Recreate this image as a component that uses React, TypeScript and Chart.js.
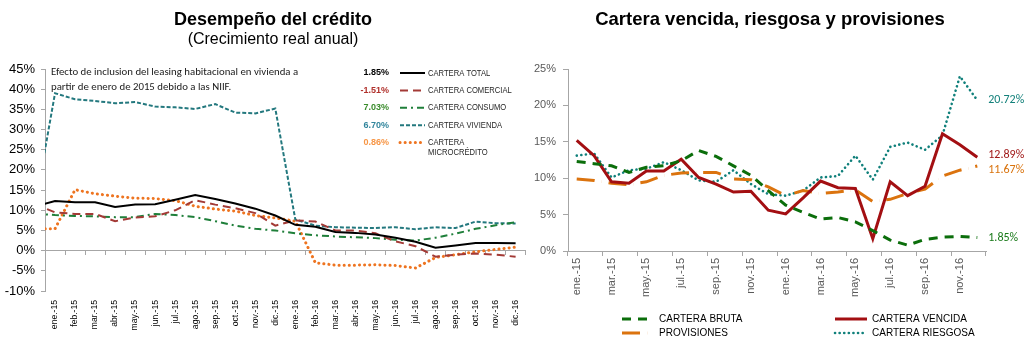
import React, { useEffect, useRef } from 'react';
import { Chart, registerables } from 'chart.js';

Chart.register(...registerables);

// ---------- text ----------
const LEFT_TITLE = 'Desempeño del crédito';
const LEFT_SUBTITLE = '(Crecimiento real anual)';
const RIGHT_TITLE = 'Cartera vencida, riesgosa y provisiones';
const NOTE_LINES = [
  'Efecto de inclusion del leasing habitacional en vivienda a',
  'partir de enero de 2015 debido a las NIIF.',
];

// ---------- categories ----------
const MONTHS = [
  'ene.-15', 'feb.-15', 'mar.-15', 'abr.-15', 'may.-15', 'jun.-15',
  'jul.-15', 'ago.-15', 'sep.-15', 'oct.-15', 'nov.-15', 'dic.-15',
  'ene.-16', 'feb.-16', 'mar.-16', 'abr.-16', 'may.-16', 'jun.-16',
  'jul.-16', 'ago.-16', 'sep.-16', 'oct.-16', 'nov.-16', 'dic.-16',
];
// left chart shows the tail of the segment coming from dic.-14 (clipped at the axis)
const LEFT_LABELS = ['dic.-14', ...MONTHS];

// ---------- left chart series (dic.-14, ene.-15 ... dic.-16) ----------
const LEFT_NAMES = ['CARTERA TOTAL', 'CARTERA COMERCIAL', 'CARTERA CONSUMO', 'CARTERA VIVIENDA', 'CARTERA MICROCRÉDITO'];
const CARTERA_TOTAL = [10.9, 12.3, 12.0, 12.0, 10.8, 11.4, 11.5, 12.6, 13.8, 12.8, 11.7, 10.4, 8.7, 6.4, 5.9, 4.6, 4.4, 4.0, 3.2, 2.2, 0.7, 1.3, 1.9, 1.9, 1.85];
const CARTERA_COMERCIAL = [11.5, 9.5, 9.1, 9.1, 7.3, 8.2, 8.5, 10.0, 12.5, 11.4, 10.5, 9.3, 6.2, 7.5, 7.2, 5.0, 5.0, 4.3, 2.3, 1.1, -1.5, -1.0, -0.7, -1.0, -1.51];
const CARTERA_CONSUMO = [9.2, 8.8, 8.6, 8.5, 8.3, 8.3, 9.1, 8.8, 8.3, 7.3, 6.2, 5.4, 5.0, 4.3, 3.8, 3.5, 3.3, 3.1, 2.7, 2.5, 3.2, 4.2, 5.4, 6.3, 7.03];
const CARTERA_VIVIENDA = [11.0, 39.0, 37.5, 37.1, 36.5, 36.8, 35.7, 35.5, 35.1, 36.3, 34.2, 34.0, 35.2, 7.7, 6.2, 5.8, 5.7, 5.6, 5.8, 5.3, 5.8, 5.6, 7.2, 6.8, 6.70];
const CARTERA_MICRO = [5.4, 5.4, 15.1, 14.1, 13.5, 13.0, 12.9, 12.4, 11.0, 10.3, 9.8, 8.7, 8.1, 7.3, -3.0, -3.6, -3.6, -3.5, -3.7, -4.3, -1.7, -1.0, -0.3, 0.3, 0.86];
const LEFT_VALUES = [CARTERA_TOTAL, CARTERA_COMERCIAL, CARTERA_CONSUMO, CARTERA_VIVIENDA, CARTERA_MICRO];
const LEFT_Y_MIN = -10;
const LEFT_Y_MAX = 45;
const LEFT_Y_STEP = 5;

// ---------- right chart series (ene.-15 ... dic.-16) ----------
const RIGHT_NAMES = ['CARTERA BRUTA', 'CARTERA VENCIDA', 'PROVISIONES', 'CARTERA RIESGOSA'];
const CARTERA_BRUTA = [12.3, 12.0, 11.7, 10.8, 11.5, 11.7, 12.4, 13.8, 13.0, 11.7, 10.4, 8.3, 6.3, 5.3, 4.4, 4.6, 4.0, 2.8, 1.5, 0.8, 1.6, 1.9, 2.0, 1.85];
const CARTERA_VENCIDA = [15.2, 13.1, 9.5, 9.3, 11.0, 11.0, 12.6, 10.1, 9.2, 8.1, 8.2, 5.6, 5.1, 7.3, 9.6, 8.7, 8.6, 1.7, 9.5, 7.6, 8.9, 16.1, 14.6, 12.89];
const PROVISIONES = [9.9, 9.7, 9.3, 9.1, 9.5, 10.4, 10.7, 10.8, 10.8, 9.9, 9.8, 8.8, 7.6, 8.3, 7.9, 8.1, 8.4, 6.8, 7.1, 7.9, 8.5, 10.3, 11.1, 11.67];
const CARTERA_RIESGOSA = [13.1, 13.4, 10.1, 11.1, 11.3, 12.2, 11.1, 9.7, 9.5, 11.1, 9.2, 7.8, 7.6, 8.3, 10.1, 10.3, 13.1, 9.8, 14.3, 14.9, 13.9, 15.9, 24.0, 20.72];
const RIGHT_VALUES = [CARTERA_BRUTA, CARTERA_VENCIDA, PROVISIONES, CARTERA_RIESGOSA];
const RIGHT_Y_MIN = 0;
const RIGHT_Y_MAX = 25;
const RIGHT_Y_STEP = 5;

// ---------- styles ----------
const ARIAL = '"Liberation Sans", Arial, sans-serif';
const CALIBRI = 'Carlito, Lato, "Liberation Sans", sans-serif';
const AXIS_GRAY = '#A6A6A6';
const NARROW_SCALE = 0.82;

type Style = { color: string; dash: number[]; width: number; cap: CanvasLineCap; text: string; nudge?: number };

const LEFT_STYLES: Style[] = [
  { color: '#000000', dash: [], width: 2, cap: 'butt', text: '#000000' },
  { color: '#A33A36', dash: [8, 5], width: 2, cap: 'butt', text: '#B0302B' },
  { color: '#1F7F3A', dash: [7, 4, 2, 4], width: 2, cap: 'butt', text: '#3A8C2C' },
  { color: '#23787E', dash: [4, 2], width: 2, cap: 'butt', text: '#31859C' },
  { color: '#EE7420', dash: [0.1, 5], width: 3, cap: 'round', text: '#F79646' },
];

const RIGHT_STYLES: Style[] = [
  { color: '#0B6E0B', dash: [9, 7], width: 3, cap: 'butt', text: '#1A7A1A', nudge: 0 },
  { color: '#A30F12', dash: [], width: 3, cap: 'butt', text: '#A01818', nudge: -2 },
  { color: '#DB730E', dash: [18, 7, 0.1, 7], width: 3, cap: 'butt', text: '#D9730D', nudge: 4 },
  { color: '#10807B', dash: [0.1, 4.5], width: 2.6, cap: 'round', text: '#12807A', nudge: 0 },
];

function strokeSample(ctx: CanvasRenderingContext2D, st: Style, x1: number, x2: number, y: number) {
  ctx.save();
  ctx.beginPath();
  ctx.setLineDash(st.dash);
  ctx.lineCap = st.cap;
  ctx.lineWidth = st.width;
  ctx.strokeStyle = st.color;
  ctx.moveTo(x1, y);
  ctx.lineTo(x2, y);
  ctx.stroke();
  ctx.restore();
}

function fillNarrow(ctx: CanvasRenderingContext2D, text: string, x: number, y: number) {
  ctx.save();
  ctx.translate(x, y);
  ctx.scale(NARROW_SCALE, 1);
  ctx.fillText(text, 0, 0);
  ctx.restore();
}

const leftDecor = {
  id: 'leftDecor',
  afterDraw(chart: any) {
    const ctx: CanvasRenderingContext2D = chart.ctx;
    ctx.save();
    ctx.fillStyle = '#000';
    ctx.textAlign = 'center';
    ctx.textBaseline = 'alphabetic';
    ctx.font = `bold 18px ${ARIAL}`;
    ctx.fillText(LEFT_TITLE, 273, 25);
    ctx.font = `16px ${ARIAL}`;
    ctx.fillText(LEFT_SUBTITLE, 273, 44);

    ctx.textAlign = 'left';
    ctx.textBaseline = 'middle';
    ctx.font = `10.8px ${CALIBRI}`;
    ctx.fillStyle = '#1a1a1a';
    NOTE_LINES.forEach((t, i) => ctx.fillText(t, 51, 72 + i * 15));

    chart.data.datasets.forEach((ds: any, i: number) => {
      const st = LEFT_STYLES[i];
      const y = 73 + i * 17.4;
      const last = ds.data[ds.data.length - 1];
      ctx.font = `bold 9px ${ARIAL}`;
      ctx.fillStyle = st.text;
      ctx.textAlign = 'right';
      ctx.fillText(last.toFixed(2) + '%', 389, y);
      strokeSample(ctx, st, 400, 425, y);
      ctx.font = `9.3px ${ARIAL}`;
      ctx.fillStyle = '#262626';
      ctx.textAlign = 'left';
      const label: string = ds.label;
      const lines = ctx.measureText(label).width * NARROW_SCALE > 92 ? label.split(' ') : [label];
      lines.forEach((l, k) => fillNarrow(ctx, l, 428, y + k * 10));
    });
    ctx.restore();
  },
};

const rightDecor = {
  id: 'rightDecor',
  afterDraw(chart: any) {
    const ctx: CanvasRenderingContext2D = chart.ctx;
    ctx.save();
    ctx.fillStyle = '#000';
    ctx.textAlign = 'center';
    ctx.textBaseline = 'alphabetic';
    ctx.font = `bold 18.5px ${ARIAL}`;
    ctx.fillText(RIGHT_TITLE, 250, 25);

    // end labels
    ctx.textAlign = 'left';
    ctx.textBaseline = 'middle';
    ctx.font = `12px ${CALIBRI}`;
    chart.data.datasets.forEach((ds: any, i: number) => {
      const meta = chart.getDatasetMeta(i);
      const pt = meta.data[meta.data.length - 1];
      const st = RIGHT_STYLES[i];
      ctx.fillStyle = st.text;
      ctx.fillText(ds.data[ds.data.length - 1].toFixed(2) + '%', pt.x + 11, pt.y + (st.nudge || 0));
    });

    // legend (two columns)
    const cols = [102, 315];
    const rows = [319, 333];
    ctx.font = `10px ${ARIAL}`;
    chart.data.datasets.forEach((ds: any, i: number) => {
      const x = cols[i % 2];
      const y = rows[Math.floor(i / 2)];
      strokeSample(ctx, RIGHT_STYLES[i], x, x + 32, y);
      ctx.fillStyle = '#000';
      ctx.fillText(ds.label, x + 37, y);
    });
    ctx.restore();
  },
};

function makeLeft(canvas: HTMLCanvasElement) {
  return new Chart(canvas, {
    type: 'line',
    data: {
      labels: LEFT_LABELS,
      datasets: LEFT_VALUES.map((vals, i) => ({
        label: LEFT_NAMES[i],
        data: vals,
        borderColor: LEFT_STYLES[i].color,
        backgroundColor: LEFT_STYLES[i].color,
        borderWidth: LEFT_STYLES[i].width,
        borderDash: LEFT_STYLES[i].dash,
        borderCapStyle: LEFT_STYLES[i].cap,
        pointRadius: 0,
        tension: 0,
        fill: false,
      })),
    },
    options: {
      responsive: false,
      animation: false,
      devicePixelRatio: 1,
      layout: { padding: { top: 69, right: 3, left: 0, bottom: 0 } },
      plugins: { legend: { display: false }, title: { display: false }, tooltip: { enabled: false } },
      scales: {
        x: {
          type: 'category',
          min: 1,
          max: LEFT_LABELS.length - 1,
          offset: true,
          grid: { display: false, drawTicks: false },
          border: { display: false },
          ticks: {
            autoSkip: false, minRotation: 90, maxRotation: 90, padding: 9,
            font: { family: ARIAL, size: 8.6 }, color: '#000',
          },
          afterFit: (s: any) => { s.height = 59; },
        },
        x0: {
          type: 'category',
          axis: 'x',
          min: 1,
          max: LEFT_LABELS.length - 1,
          offset: true,
          position: { y: 0 },
          grid: { drawOnChartArea: false, drawTicks: true, tickLength: 4, color: AXIS_GRAY, offset: true },
          border: { display: true, color: AXIS_GRAY, width: 1 },
          ticks: { display: false },
        },
        y: {
          min: LEFT_Y_MIN,
          max: LEFT_Y_MAX,
          ticks: {
            stepSize: LEFT_Y_STEP, padding: 6, color: '#000',
            font: { family: ARIAL, size: 13 },
            callback: (v: any) => v + '%',
          },
          grid: { drawOnChartArea: false, tickLength: 4, color: AXIS_GRAY },
          border: { color: AXIS_GRAY },
          afterFit: (s: any) => { s.width = 45; },
        },
      },
    } as any,
    plugins: [leftDecor],
  });
}

function makeRight(canvas: HTMLCanvasElement) {
  return new Chart(canvas, {
    type: 'line',
    data: {
      labels: MONTHS,
      datasets: RIGHT_VALUES.map((vals, i) => ({
        label: RIGHT_NAMES[i],
        data: vals,
        borderColor: RIGHT_STYLES[i].color,
        backgroundColor: RIGHT_STYLES[i].color,
        borderWidth: RIGHT_STYLES[i].width,
        borderDash: RIGHT_STYLES[i].dash,
        borderCapStyle: RIGHT_STYLES[i].cap,
        pointRadius: 0,
        tension: 0,
        fill: false,
      })),
    },
    options: {
      responsive: false,
      animation: false,
      devicePixelRatio: 1,
      layout: { padding: { top: 69, right: 43, left: 0, bottom: 0 } },
      plugins: { legend: { display: false }, title: { display: false }, tooltip: { enabled: false } },
      scales: {
        x: {
          type: 'category',
          offset: true,
          grid: {
            drawOnChartArea: false, offset: true, tickLength: 5,
            color: (c: any) => (c.index === undefined || c.index % 2 === 0 ? AXIS_GRAY : 'rgba(0,0,0,0)'),
          },
          border: { color: AXIS_GRAY },
          ticks: {
            autoSkip: false, minRotation: 90, maxRotation: 90, padding: 2,
            font: { family: ARIAL, size: 11 }, color: '#595959',
            callback: function (this: any, v: any, i: number) { return i % 2 === 0 ? this.getLabelForValue(v) : ''; },
          },
          afterFit: (s: any) => { s.height = 99; },
        },
        y: {
          min: RIGHT_Y_MIN,
          max: RIGHT_Y_MAX,
          ticks: {
            stepSize: RIGHT_Y_STEP, padding: 7, color: '#595959',
            font: { family: ARIAL, size: 11 },
            callback: (v: any) => v + '%',
          },
          grid: { drawOnChartArea: false, tickLength: 5, color: AXIS_GRAY },
          border: { color: AXIS_GRAY },
          afterFit: (s: any) => { s.width = 48; },
        },
      },
    } as any,
    plugins: [rightDecor],
  });
}

export default function App() {
  const leftRef = useRef<HTMLCanvasElement>(null);
  const rightRef = useRef<HTMLCanvasElement>(null);
  useEffect(() => {
    const l = makeLeft(leftRef.current!);
    const r = makeRight(rightRef.current!);
    return () => { l.destroy(); r.destroy(); };
  }, []);
  return (
    <div style={{ position: 'fixed', left: 0, top: 0, width: 1029, height: 350, background: '#fff', overflow: 'hidden' }}>
      <canvas ref={leftRef} width={535} height={350} style={{ position: 'absolute', left: 0, top: 0, width: 535, height: 350 }} />
      <canvas ref={rightRef} width={509} height={350} style={{ position: 'absolute', left: 520, top: 0, width: 509, height: 350 }} />
    </div>
  );
}
